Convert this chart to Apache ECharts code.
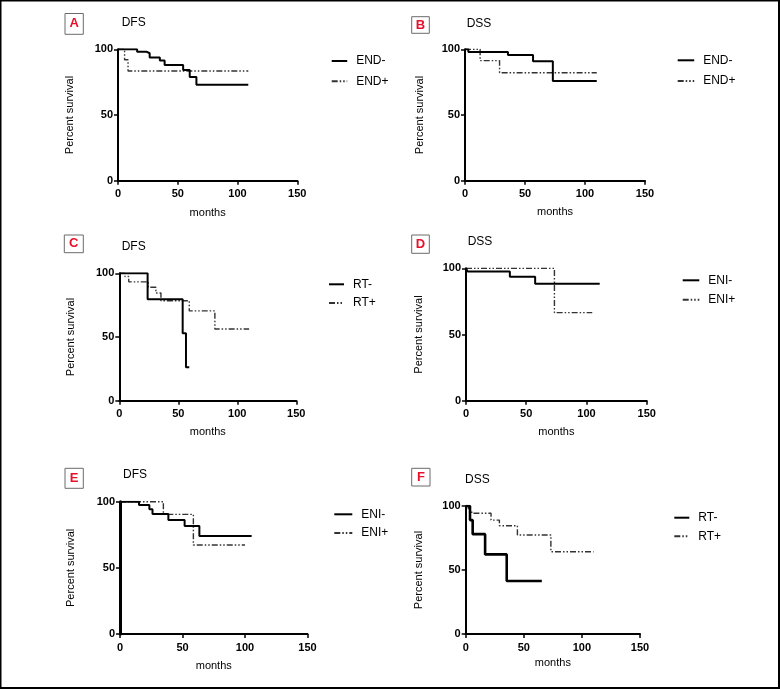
<!DOCTYPE html>
<html>
<head>
<meta charset="utf-8">
<script src="https://cdn.jsdelivr.net/npm/echarts@6/dist/echarts.min.js"></script>
<style>
html,body{margin:0;padding:0;background:#fff;}
#chart{width:780px;height:689px;}
</style>
</head>
<body>
<div id="chart"></div>
<script>
// ---- Data (months, percent survival) ----
// Panel A: DFS, END
const aMonthsEndNeg = [0, 16, 23.7, 26.5, 35, 39, 54.5, 60, 65.6, 109];
const aSurvEndNeg   = [100, 98.2, 97, 93.7, 91.4, 88, 84.3, 79, 73, 73];
const aMonthsEndPos = [0, 5.5, 8.4, 109];
const aSurvEndPos   = [100, 92, 83.5, 83.5];
// Panel B: DSS, END
const bMonthsEndNeg = [0, 2.8, 35.8, 56.7, 73.2, 109.8];
const bSurvEndNeg   = [100, 98, 95.7, 91, 75.9, 75.9];
const bMonthsEndPos = [0, 12.6, 28.8, 109.8];
const bSurvEndPos   = [100, 91.4, 82.2, 82.2];
// Panel C: DFS, RT
const cMonthsRtNeg = [0, 24, 53.7, 56.5, 59.3];
const cSurvRtNeg   = [100, 79.6, 52.9, 26.2, 26.2];
const cMonthsRtPos = [0, 4.8, 8, 24.6, 31, 35.3, 59.3, 81, 110];
const cSurvRtPos   = [100, 97.5, 93.3, 89, 84.5, 78.5, 70.5, 56.3, 56.3];
// Panel D: DSS, ENI
const dMonthsEniNeg = [0, 1.4, 36.4, 57.4, 111];
const dSurvEniNeg   = [100, 97.5, 93.7, 88.4, 88.4];
const dMonthsEniPos = [0, 73.4, 104.8];
const dSurvEniPos   = [100, 66.5, 66.5];
// Panel E: DFS, ENI
const eMonthsEniNeg = [0, 15.2, 23.5, 26, 38.7, 51.7, 63.5, 105.3];
const eSurvEniNeg   = [100, 97.5, 94.2, 90.7, 86.1, 81.6, 74, 74];
const eMonthsEniPos = [0, 34.7, 58.7, 100];
const eSurvEniPos   = [100, 90.4, 67.3, 67.3];
// Panel F: DSS, RT
const fMonthsRtNeg = [0, 3.7, 6, 16.7, 35.3, 65.5];
const fSurvRtNeg   = [100, 89, 78, 62.2, 41.4, 41.4];
const fMonthsRtPos = [0, 2.3, 5.2, 21.8, 29, 44.5, 73.3, 110];
const fSurvRtPos   = [100, 96.5, 94.3, 89, 84.6, 77.3, 64.3, 64.3];

const panelLetters = ['A', 'B', 'C', 'D', 'E', 'F'];
const panelTitles  = ['DFS', 'DSS', 'DFS', 'DSS', 'DFS', 'DSS'];
const legendNames  = [['END-', 'END+'], ['END-', 'END+'], ['RT-', 'RT+'], ['ENI-', 'ENI+'], ['ENI-', 'ENI+'], ['RT-', 'RT+']];
const xTicks = [0, 50, 100, 150];
const yTicks = [0, 50, 100];
const xAxisTitle = 'months';
const yAxisTitle = 'Percent survival';

const seriesData = [
  [[aMonthsEndNeg, aSurvEndNeg], [aMonthsEndPos, aSurvEndPos]],
  [[bMonthsEndNeg, bSurvEndNeg], [bMonthsEndPos, bSurvEndPos]],
  [[cMonthsRtNeg, cSurvRtNeg], [cMonthsRtPos, cSurvRtPos]],
  [[dMonthsEniNeg, dSurvEniNeg], [dMonthsEniPos, dSurvEniPos]],
  [[eMonthsEniNeg, eSurvEniNeg], [eMonthsEniPos, eSurvEniPos]],
  [[fMonthsRtNeg, fSurvRtNeg], [fMonthsRtPos, fSurvRtPos]]
];

// ---- Layout ----
const grids = [
  {left: 118,   top: 49.3,  width: 179.3, height: 131.4},
  {left: 465,   top: 49.3,  width: 180,   height: 131.4},
  {left: 119.3, top: 273.3, width: 177,   height: 127.4},
  {left: 466,   top: 268.3, width: 180.7, height: 132.4},
  {left: 120,   top: 501.7, width: 187.5, height: 132.3},
  {left: 465.7, top: 506,   width: 174.3, height: 128}
];
const yNameGaps = [43, 40, 43, 42, 44, 41];
const xNameGaps = [27, 26, 26, 26, 26, 23];
const legendPos = [
  {left: 330.7, top: 55,    w: 15.5},
  {left: 676.7, top: 54.3,  w: 16.5},
  {left: 328,   top: 278.3, w: 15},
  {left: 681.7, top: 274.3, w: 16.6},
  {left: 333.3, top: 508.3, w: 18},
  {left: 673.3, top: 511.7, w: 15}
];
const legendGaps = [8.3, 8.7, 6.7, 7.4, 6.7, 6.6];
const boxes = [
  {x: 65, y: 13.5, w: 18.3, h: 20.8},
  {x: 411.7, y: 16.7, w: 17.6, h: 16.6},
  {x: 64.3, y: 235, w: 19, h: 17.7},
  {x: 411.7, y: 235, w: 17.6, h: 18.3},
  {x: 65, y: 468.3, w: 18.3, h: 20},
  {x: 411.7, y: 468.3, w: 18.3, h: 17.7}
];
const titlePos = [
  {x: 121.7, y: 23}, {x: 466.7, y: 24}, {x: 121.7, y: 246.7},
  {x: 467.7, y: 241.7}, {x: 123, y: 475}, {x: 465, y: 480}
];

const FONT = '"Liberation Sans", Arial, sans-serif';
const solidW = [2, 2, 2, 2, 2, 2.6];
const dashPattern = [6, 2, 1.5, 2, 1.5, 2];

const option = {
  animation: false,
  backgroundColor: '#fff',
  textStyle: {fontFamily: FONT},
  grid: grids.map(g => Object.assign({containLabel: false}, g)),
  xAxis: grids.map((g, i) => ({
    gridIndex: i, type: 'value', min: 0, max: 150, interval: 50,
    name: xAxisTitle, nameLocation: 'middle', nameGap: xNameGaps[i],
    nameTextStyle: {fontSize: 11, color: '#000', fontFamily: FONT},
    axisLine: {show: true, onZero: false, lineStyle: {color: '#000', width: 2}},
    axisTick: {show: true, length: 4, lineStyle: {color: '#000', width: 1.5}},
    axisLabel: {fontSize: 11, fontWeight: 'bold', color: '#000', margin: 8, fontFamily: FONT},
    splitLine: {show: false}
  })),
  yAxis: grids.map((g, i) => ({
    gridIndex: i, type: 'value', min: 0, max: 100, interval: 50,
    name: yAxisTitle, nameLocation: 'middle', nameGap: yNameGaps[i], nameRotate: 90,
    nameTextStyle: {fontSize: 11, color: '#000', fontFamily: FONT},
    axisLine: {show: true, onZero: false, lineStyle: {color: '#000', width: i === 4 ? 3 : 2}},
    axisTick: {show: true, length: 4, lineStyle: {color: '#000', width: 1.5}},
    axisLabel: {fontSize: 11, fontWeight: 'bold', color: '#000', margin: 5, fontFamily: FONT},
    splitLine: {show: false}
  })),
  legend: legendNames.map((names, i) => ({
    data: names, orient: 'vertical', left: legendPos[i].left, top: legendPos[i].top,
    padding: 0,
    itemWidth: legendPos[i].w, itemHeight: 10, itemGap: legendGaps[i],
    itemStyle: {opacity: 0},
    textStyle: {fontSize: 12, color: '#000', fontFamily: FONT, padding: [0, 0, 0, 4]},
    selectedMode: false
  })),
  series: [],
  graphic: []
};

seriesData.forEach((pair, i) => {
  pair.forEach((d, k) => {
    const pts = d[0].map((t, j) => [t, d[1][j]]);
    option.series.push({
      type: 'line', name: legendNames[i][k], xAxisIndex: i, yAxisIndex: i,
      step: 'end', symbol: 'none', showSymbol: false, data: pts, z: k === 0 ? 3 : 2,
      lineStyle: k === 0
        ? {color: '#000', width: solidW[i], type: 'solid'}
        : {color: '#333', width: 1.4, type: dashPattern},
      itemStyle: {color: k === 0 ? '#000' : '#333'},
      emphasis: {disabled: true}
    });
  });
});

boxes.forEach((b, i) => {
  option.graphic.push({
    type: 'rect', shape: {x: b.x, y: b.y, width: b.w, height: b.h},
    style: {fill: '#fff', stroke: '#6b6b6b', lineWidth: 1}
  });
  option.graphic.push({
    type: 'text', x: b.x + b.w / 2, y: b.y + b.h / 2,
    style: {text: panelLetters[i], fill: '#e8102a', font: 'bold 13px ' + FONT, textAlign: 'center', textVerticalAlign: 'middle'}
  });
  option.graphic.push({
    type: 'text', x: titlePos[i].x, y: titlePos[i].y,
    style: {text: panelTitles[i], fill: '#000', font: '12px ' + FONT, textAlign: 'left', textVerticalAlign: 'middle'}
  });
});
// outer frame
option.graphic.push({
  type: 'rect', shape: {x: 0.5, y: 0.5, width: 778.5, height: 687.5},
  style: {fill: 'none', stroke: '#000', lineWidth: 2}, z: 100
});

const chart = echarts.init(document.getElementById('chart'), null, {renderer: 'canvas'});
chart.setOption(option);
</script>
</body>
</html>
